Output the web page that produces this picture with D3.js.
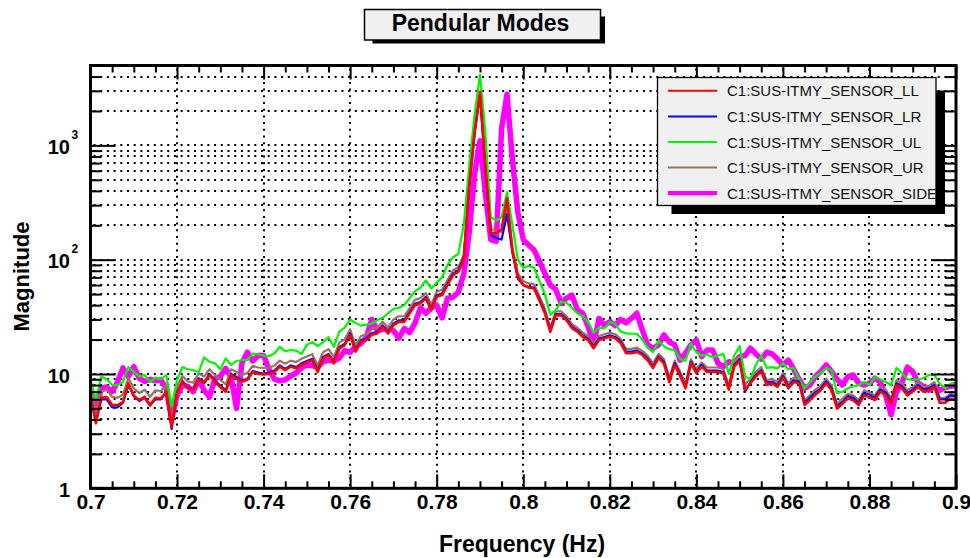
<!DOCTYPE html>
<html><head><meta charset="utf-8">
<script src="https://cdn.jsdelivr.net/npm/d3@7"></script>
<style>
body{margin:0;background:#fff}
svg{display:block}
text{font-family:"Liberation Sans",Arial,Helvetica,sans-serif}
</style>
</head><body>
<svg id="c" width="970" height="558"></svg>
<script>
// ---------- data ----------
const chartTitle = "Pendular Modes";
const xTitle = "Frequency (Hz)";
const yTitle = "Magnitude";
const fStart = 0.7, fStep = 0.00125;   // frequency bins
const xTickValues = [0.7,0.72,0.74,0.76,0.78,0.8,0.82,0.84,0.86,0.88,0.9];
const xTickLabels = ["0.7","0.72","0.74","0.76","0.78","0.8","0.82","0.84","0.86","0.88","0.9"];
const yTickValues = [1,10,100,1000];
const yTickBase = ["1","10","10","10"];
const yTickExp = ["","","2","3"];
const seriesNames = ["C1:SUS-ITMY_SENSOR_LL","C1:SUS-ITMY_SENSOR_LR","C1:SUS-ITMY_SENSOR_UL","C1:SUS-ITMY_SENSOR_UR","C1:SUS-ITMY_SENSOR_SIDE"];
const seriesColors = ["#ff0000","#0000ff","#00f500","#9a7262","#ff00ff"];

const LL = [6.5,3.7,6.2,6.3,5.35,5.35,5.7,8.3,6.5,5.9,
6.3,5.35,6.2,6.1,7.0,3.45,6.8,8.55,7.5,7.3,
8.9,8.3,9.8,8.55,7.7,7.0,9.8,9.15,8.55,8.9,
10.4,10.0,9.9,10.0,10.4,11.6,10.8,11.6,11.2,12.0,
12.6,13.2,10.4,13.7,14.6,12.4,16.7,17.9,22.0,15.7,
19.1,19.8,22.0,22.6,25.8,22.6,26.8,28.6,28.6,34,
40,41.5,45.9,36.2,47.4,49,60,73,78.5,100,
430,1300,2950,650,170,170,185,345,120,71,
60,57,56,44,34,23.4,32.6,32.6,29.5,25.2,
23.4,21.2,19.8,16.8,19.8,20.5,21.2,20.5,18.7,15.2,
15.2,15.6,14.7,13.2,11.3,13.8,12.4,8.5,12.0,9.6,
7.5,12.4,10.2,11.6,10.4,10.4,10.4,10.1,7.3,11.6,
13.0,7.3,8.3,9.5,10.5,8.0,8.3,7.7,9.3,7.5,
8.5,8.3,5.35,5.9,6.6,7.2,8.3,7.2,5.0,5.5,
6.1,5.9,5.35,6.5,6.3,5.9,7.0,6.6,5.5,8.0,
7.5,6.5,7.0,7.7,7.0,7.2,7.7,5.6,5.6,6.1,
5.9];

const LR = [6.2,3.9,6.0,6.0,5.1,5.1,5.6,8.0,6.4,5.8,
6.2,5.3,6.0,6.0,6.9,3.3,6.9,8.7,7.7,7.4,
9.1,8.5,10.0,8.8,7.9,7.2,10.0,9.4,8.8,9.1,
10.6,10.3,10.1,10.3,10.7,11.9,11.1,11.9,11.5,12.4,
13.0,13.6,10.8,14.1,15.0,12.8,17.2,18.4,22.6,16.2,
19.7,20.4,22.7,23.3,26.6,23.3,27.6,29.5,29.5,35,
41.2,42.7,47.3,37.3,48.8,50.5,62,75,81,103,
420,1250,2750,620,165,155,150,250,115,68,
60,58,57,45,35,24.1,33.5,33.5,30.4,26.0,
24.1,21.8,20.4,17.3,20.4,21.1,21.8,21.1,19.3,15.7,
15.7,16.1,15.1,13.6,11.6,14.2,12.8,8.8,12.4,9.9,
7.7,12.8,10.5,12.0,10.7,10.7,10.7,10.4,7.5,12.0,
13.4,7.0,8.5,9.8,10.8,8.4,8.6,8.0,9.6,7.8,
8.8,8.6,5.6,6.2,6.9,7.5,8.6,7.5,5.2,5.7,
6.4,6.2,5.6,6.8,6.6,6.2,7.3,6.9,5.8,8.3,
7.8,6.8,7.3,8.0,7.3,7.5,8.0,6.0,6.0,6.5,
6.3];

const UL = [8.9,5.9,9.5,9.0,8.0,8.0,8.5,11.5,10.5,9.5,
9.8,8.5,9.3,9.0,9.8,5.2,8.8,11.5,11.0,10.8,
10.4,14.0,12.8,12.4,11.0,13.7,12.0,13.0,13.2,13.2,
15.1,14.8,14.5,14.3,15.1,17.3,15.8,16.2,16.0,15.0,
18.0,19.0,17.5,19.0,21.0,17.3,23.5,25.5,30.0,28.0,
26.5,27.0,27.5,29.5,31.0,34.0,37.0,38.0,40.0,46.0,
53,57,66,56,63,70,90,105,112,200,
650,1850,4150,1280,235,220,235,390,200,100,
85,88,85,65,50,33,36,43,42,38,
34,32,28.5,23.0,25.5,25.0,28.5,27.5,23.5,22.7,
22.5,22.5,20.0,17.0,15.5,19.5,17.5,16.5,16.2,13.5,
13.0,18.5,15.5,14.5,14.8,14.0,14.5,15.0,10.0,14.5,
17.5,9.5,9.0,12.0,14.5,11.3,11.5,11.2,12.5,11.0,
11.3,9.0,7.5,8.5,9.5,10.2,11.3,10.8,6.8,7.0,
7.5,7.8,8.0,8.5,8.0,9.4,9.0,8.5,8.0,11.3,
10.2,9.0,8.9,9.0,9.2,9.8,9.8,8.2,7.5,8.2,
8.4];

const UR = [7.3,4.6,7.0,7.3,6.3,6.2,6.6,9.2,7.5,6.8,
7.3,6.3,7.2,7.1,8.0,3.8,7.8,9.6,8.6,8.4,
10.1,9.5,11.0,9.8,8.9,8.1,11.0,10.4,9.8,10.2,
11.8,11.4,11.3,11.4,11.8,13.1,12.3,13.1,12.7,13.6,
14.2,14.9,11.9,15.5,16.5,14.1,18.8,20.1,24.6,17.8,
21.5,22.3,24.7,25.3,28.8,25.4,30.0,32.0,32.0,37.8,
44.5,46.2,51.0,40.5,52.5,54.5,66.5,80.5,86.5,110,
460,1350,2850,680,185,180,175,300,128,76,
65,62,61,48,37,25.5,35.3,35.3,32.0,27.3,
25.4,23.0,21.5,18.3,21.5,22.3,23.0,22.3,20.3,16.6,
16.6,17.0,16.0,14.4,12.4,15.0,13.5,9.3,13.1,10.5,
8.2,13.5,11.1,12.6,11.4,11.4,11.4,11.0,8.0,12.6,
14.2,8.1,9.1,10.4,11.5,8.8,9.1,8.5,10.2,8.3,
9.3,9.1,5.9,6.5,7.3,7.9,9.1,7.9,5.5,6.1,
6.7,6.5,5.9,7.2,6.9,6.5,7.7,7.3,6.1,8.8,
8.3,7.2,7.7,8.5,7.7,7.9,8.5,6.2,6.2,6.7,
6.5];

const SIDE = [7.0,4.8,7.5,7.7,7.0,8.5,11.3,9.5,11.6,9.2,
8.6,9.0,8.7,8.9,7.5,4.0,6.5,8.0,7.8,7.0,
8.9,7.2,6.3,9.1,9.5,11.2,9.3,5.0,12.5,15.5,
13.0,14.5,14.5,11.0,9.0,8.7,8.9,9.6,10.2,11.3,
12.0,11.8,11.5,12.8,13.2,13.0,13.8,16.0,15.5,17.5,
18.5,21.0,30.0,24.0,24.5,25.0,24.0,20.6,25.0,23.0,
28,38,34,38,40,31,46,47,52,75,
170,560,1100,380,150,145,1400,2800,750,260,
150,134,122,96,76,60,55,41.5,46,49,
36.5,34,26,18,30.6,26.5,28.6,26.5,30,28,
30.6,34,24.3,18,16.8,18,22,19,18,13.2,
15.2,18,19.8,14.2,16.2,16.2,12.4,11.6,12.8,12.4,
14.2,14.5,16.8,15.0,13.5,15.5,15.0,13.5,12.0,13.2,
11.0,9.0,7.5,8.0,9.5,10.5,12.0,10.5,9.0,8.0,
9.5,9.8,8.3,8.0,8.3,9.2,8.5,6.5,4.4,7.0,
8.3,11.5,10.5,8.3,7.8,7.2,7.8,7.2,7.6,7.8,
8.0];

const seriesData = [LL, LR, UL, UR, SIDE];

// ---------- layout ----------
const svg = d3.select("#c");
const L = 90.5, R = 956, T = 65.5, B = 488.3;
const x = d3.scaleLinear().domain([0.7, 0.9]).range([L, R]);
const y = d3.scaleLog().domain([1, 5000]).range([B, T]);

svg.append("rect").attr("width",970).attr("height",558).attr("fill","#fff");

// grid
const gGrid = svg.append("g").attr("stroke","#000").attr("stroke-width",2).attr("stroke-dasharray","2,4.7").attr("fill","none");
const xGridVals = xTickValues.slice(1, -1);
gGrid.selectAll("line.gx").data(xGridVals).join("line")
  .attr("x1", d => Math.round(x(d))).attr("x2", d => Math.round(x(d)))
  .attr("y1", T + 3).attr("y2", B);
const yGridVals = [];
for (let k = 0; k <= 3; k++) for (let m = 1; m <= 9; m++) { const v = m * Math.pow(10, k); if (v > 1 && v < 5000) yGridVals.push(v); }
gGrid.selectAll("line.gy").data(yGridVals).join("line")
  .attr("x1", L + 3).attr("x2", R)
  .attr("y1", d => Math.round(y(d))).attr("y2", d => Math.round(y(d)));

// data lines
svg.append("clipPath").attr("id","plotclip").append("rect")
  .attr("x", L).attr("y", T).attr("width", R - L).attr("height", B - T);
const line = d3.line().x((d, i) => x(fStart + i * fStep)).y(d => y(d));
const widths = [2.6, 2.2, 2.2, 2.2, 5.5];
const order = [4, 3, 2, 1, 0];
const gData = svg.append("g").attr("clip-path","url(#plotclip)");
order.forEach(k => {
  gData.append("path").attr("d", line(seriesData[k])).attr("fill","none")
    .attr("stroke", seriesColors[k]).attr("stroke-width", widths[k])
    .attr("stroke-linejoin","round");
});

// axes (ticks inside)
const minorX = d3.range(0, 41).map(i => 0.7 + i * 0.005).filter(v => Math.abs(((v - 0.7) / 0.02) - Math.round((v - 0.7) / 0.02)) > 1e-6);
const minorY = yGridVals.filter(v => !yTickValues.includes(v));
function styleAxis(g) {
  g.select(".domain").remove();
  g.selectAll(".tick line").attr("stroke","#000").attr("stroke-width",2);
}
svg.append("g").attr("transform",`translate(0,${B})`)
  .call(d3.axisBottom(x).tickValues(xTickValues).tickSize(-14).tickPadding(6).tickFormat((d, i) => xTickLabels[i]))
  .call(styleAxis)
  .call(g => g.selectAll("text").attr("font-size",21).attr("font-weight","bold").attr("fill","#000").attr("font-family","Liberation Sans, Arial, sans-serif"));
svg.append("g").attr("transform",`translate(0,${B})`)
  .call(d3.axisBottom(x).tickValues(minorX).tickSize(-7).tickFormat("")).call(styleAxis);
svg.append("g").attr("transform",`translate(0,${T})`)
  .call(d3.axisTop(x).tickValues(xTickValues).tickSize(-14).tickFormat("")).call(styleAxis);
svg.append("g").attr("transform",`translate(0,${T})`)
  .call(d3.axisTop(x).tickValues(minorX).tickSize(-7).tickFormat("")).call(styleAxis);
svg.append("g").attr("transform",`translate(${L},0)`)
  .call(d3.axisLeft(y).tickValues(yTickValues).tickSize(-25).tickFormat("")).call(styleAxis);
svg.append("g").attr("transform",`translate(${L},0)`)
  .call(d3.axisLeft(y).tickValues(minorY).tickSize(-11).tickFormat("")).call(styleAxis);
svg.append("g").attr("transform",`translate(${R},0)`)
  .call(d3.axisRight(y).tickValues(yTickValues).tickSize(-25).tickFormat("")).call(styleAxis);
svg.append("g").attr("transform",`translate(${R},0)`)
  .call(d3.axisRight(y).tickValues(minorY).tickSize(-11).tickFormat("")).call(styleAxis);

// y tick labels with exponents
const gYL = svg.append("g").attr("font-weight","bold").attr("fill","#000");
yTickValues.forEach((v, i) => {
  gYL.append("text").attr("x", 70).attr("y", y(v) + 8.6).attr("text-anchor","end")
    .attr("font-size",20).text(yTickBase[i]);
  if (yTickExp[i]) gYL.append("text").attr("x", 71.5).attr("y", y(v) - 6.5)
    .attr("font-size",12).text(yTickExp[i]);
});

// frame
svg.append("rect").attr("x", L).attr("y", T).attr("width", R - L).attr("height", B - T)
  .attr("fill","none").attr("stroke","#000").attr("stroke-width",3);

// axis titles
svg.append("text").attr("x", 522).attr("y", 551.5).attr("text-anchor","middle")
  .attr("font-size",23).attr("font-weight","bold").text(xTitle);
svg.append("text").attr("transform","translate(28.5,276.5) rotate(-90)").attr("text-anchor","middle")
  .attr("font-size",22).attr("font-weight","bold").text(yTitle);

// title box
const tb = {x1: 364.5, y1: 9.5, x2: 600.5, y2: 40};
svg.append("rect").attr("x", tb.x1 + 8).attr("y", tb.y1 + 7).attr("width", tb.x2 - tb.x1 - 3.5).attr("height", tb.y2 - tb.y1 - 3.5).attr("fill","#000");
svg.append("rect").attr("x", tb.x1).attr("y", tb.y1).attr("width", tb.x2 - tb.x1).attr("height", tb.y2 - tb.y1)
  .attr("fill","#f0f0f0").attr("stroke","#000").attr("stroke-width",1.5);
svg.append("text").attr("x", 480.5).attr("y", 30.7).attr("text-anchor","middle")
  .attr("font-size",23).attr("font-weight","bold").text(chartTitle);

// legend
const lb = {x1: 657.5, y1: 77.5, x2: 936, y2: 205.5};
svg.append("rect").attr("x", lb.x1 + 14).attr("y", lb.y1 + 13).attr("width", lb.x2 - lb.x1 - 5).attr("height", lb.y2 - lb.y1 - 4.5).attr("fill","#000");
svg.append("rect").attr("x", lb.x1).attr("y", lb.y1).attr("width", lb.x2 - lb.x1).attr("height", lb.y2 - lb.y1)
  .attr("fill","#f0f0f0").attr("stroke","#000").attr("stroke-width",1.3);
svg.append("clipPath").attr("id","legclip").append("rect")
  .attr("x", lb.x1).attr("y", lb.y1).attr("width", lb.x2 - lb.x1 - 0.5).attr("height", lb.y2 - lb.y1);
const gLeg = svg.append("g").attr("clip-path","url(#legclip)");
const legW = [2, 2, 2, 2, 4.3];
seriesNames.forEach((nm, i) => {
  const cy = 90.8 + i * 25.6;
  gLeg.append("line").attr("x1", 668).attr("x2", 717).attr("y1", cy).attr("y2", cy)
    .attr("stroke", seriesColors[i]).attr("stroke-width", legW[i]);
  gLeg.append("text").attr("x", 727).attr("y", cy + 5.6).attr("font-size",15).attr("fill","#111").text(nm);
});
</script>
</body></html>
